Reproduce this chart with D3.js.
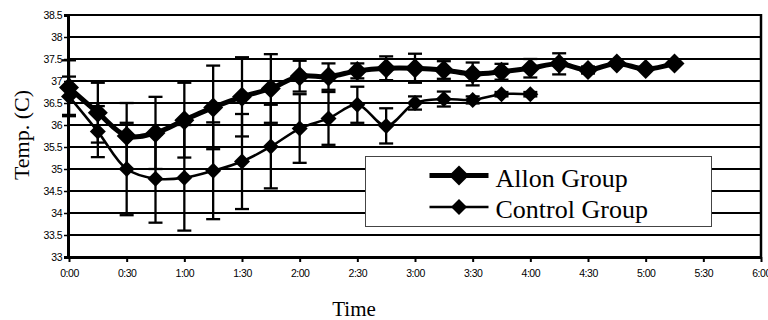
<!DOCTYPE html>
<html>
<head>
<meta charset="utf-8">
<script src="https://cdn.jsdelivr.net/npm/d3@7"></script>
<style>
    html, body { margin: 0; padding: 0; background: #fff; }
    svg { display: block; }
    .tick-label { font-family: 'Liberation Sans', Arial, sans-serif; font-size: 10.5px; letter-spacing: -0.5px; fill: #000; }
</style>
</head>
<body>
<svg id="chart" width="768" height="320"></svg>
<script>

const timeTicks = [0, 30, 60, 90, 120, 150, 180, 210, 240, 270, 300, 330, 360];
const timeTickLabels = ['0:00', '0:30', '1:00', '1:30', '2:00', '2:30', '3:00', '3:30', '4:00', '4:30', '5:00', '5:30', '6:00'];
const tempTicks = [33, 33.5, 34, 34.5, 35, 35.5, 36, 36.5, 37, 37.5, 38, 38.5];

const seriesNames = ['Allon Group', 'Control Group'];

const allonTime = [0, 15, 30, 45, 60, 75, 90, 105, 120, 135, 150, 165, 180, 195, 210, 225, 240, 255, 270, 285, 300, 315];
const allonTemp = [36.85, 36.28, 35.75, 35.82, 36.11, 36.40, 36.64, 36.83, 37.11, 37.10, 37.23, 37.29, 37.29, 37.25, 37.16, 37.21, 37.29, 37.39, 37.25, 37.40, 37.27, 37.40];
const allonErr = [0.62, 0.68, 0.75, 0.82, 0.85, 0.95, 0.90, 0.78, 0.35, 0.30, 0.17, 0.27, 0.33, 0.20, 0.26, 0.18, 0.21, 0.24, 0.08, 0, 0, 0];

const controlTime = [0, 15, 30, 45, 60, 75, 90, 105, 120, 135, 150, 165, 180, 195, 210, 225, 240];
const controlTemp = [36.65, 35.85, 35.00, 34.78, 34.80, 34.96, 35.17, 35.51, 35.92, 36.15, 36.46, 35.98, 36.50, 36.59, 36.57, 36.70, 36.70];
const controlErr = [0.45, 0.58, 1.05, 1.00, 1.20, 1.10, 1.08, 0.95, 0.78, 0.60, 0.41, 0.40, 0.15, 0.17, 0.08, 0.05, 0.05];


const serifFont = "'Liberation Serif', 'Times New Roman', 'DejaVu Serif', serif";
const margin = {left: 69, right: 761, top: 15, bottom: 257};
const svg = d3.select('#chart');

const xScale = d3.scaleLinear()
    .domain([0, 360])
    .range([margin.left, margin.right]);

const yScale = d3.scaleLinear()
    .domain([33, 38.5])
    .range([margin.bottom, margin.top]);

function toPoints(times, temps, errs) {
    return times.map((t, i) => ({t: t, v: temps[i], e: errs[i]}));
}

function diamond(half) {
    return `M0,${-half}L${half},0L0,${half}L${-half},0Z`;
}

// horizontal gridlines (the bottom one is the axis itself)
svg.append('g')
    .selectAll('line')
    .data(tempTicks.slice(1))
    .enter()
    .append('line')
    .attr('x1', margin.left)
    .attr('x2', margin.right)
    .attr('y1', d => yScale(d))
    .attr('y2', d => yScale(d))
    .attr('stroke', '#000')
    .attr('stroke-width', 2);

// right border
svg.append('line')
    .attr('x1', margin.right).attr('x2', margin.right)
    .attr('y1', margin.top - 1).attr('y2', margin.bottom)
    .attr('stroke', '#000')
    .attr('stroke-width', 2.5);

// y axis
const yAxis = d3.axisLeft(yScale)
    .tickValues(tempTicks)
    .tickFormat(d => d3.format('')(d))
    .tickSize(4)
    .tickPadding(2);

const yAxisG = svg.append('g')
    .attr('transform', `translate(${margin.left - 1}, 0)`)
    .call(yAxis);
yAxisG.select('.domain').attr('stroke', '#000').attr('stroke-width', 3);
yAxisG.selectAll('.tick line').attr('stroke', '#000').attr('stroke-width', 1.5);
yAxisG.selectAll('.tick text')
    .attr('class', 'tick-label')
    .attr('font-family', null)
    .attr('font-size', null);

// x axis
const xAxis = d3.axisBottom(xScale)
    .tickValues(timeTicks)
    .tickFormat((d, i) => timeTickLabels[i])
    .tickSize(5)
    .tickSizeOuter(0)
    .tickPadding(8);

const xAxisG = svg.append('g')
    .attr('transform', `translate(0, ${margin.bottom})`)
    .call(xAxis);
xAxisG.select('.domain').attr('stroke', '#000').attr('stroke-width', 3);
xAxisG.selectAll('.tick line').attr('stroke', '#000').attr('stroke-width', 2);
xAxisG.selectAll('.tick text')
    .attr('class', 'tick-label')
    .attr('font-family', null)
    .attr('font-size', null);

function renderSeries(points, lineWidth, markerHalf) {
    const g = svg.append('g');

    const bars = g.selectAll('.err')
        .data(points.filter(p => p.e > 0))
        .enter()
        .append('g')
        .attr('class', 'err');

    bars.append('line')
        .attr('x1', d => xScale(d.t))
        .attr('x2', d => xScale(d.t))
        .attr('y1', d => yScale(d.v + d.e))
        .attr('y2', d => yScale(d.v - d.e))
        .attr('stroke', '#000')
        .attr('stroke-width', 2.3);

    [1, -1].forEach(sign => {
        bars.append('line')
            .attr('x1', d => xScale(d.t) - 7)
            .attr('x2', d => xScale(d.t) + 7)
            .attr('y1', d => yScale(d.v + sign * d.e))
            .attr('y2', d => yScale(d.v + sign * d.e))
            .attr('stroke', '#000')
            .attr('stroke-width', 2.3);
    });

    const line = d3.line()
        .x(d => xScale(d.t))
        .y(d => yScale(d.v))
        .curve(d3.curveCatmullRom.alpha(0.5));

    g.append('path')
        .datum(points)
        .attr('d', line)
        .attr('fill', 'none')
        .attr('stroke', '#000')
        .attr('stroke-width', lineWidth)
        .attr('stroke-linejoin', 'round');

    g.selectAll('.marker')
        .data(points)
        .enter()
        .append('path')
        .attr('class', 'marker')
        .attr('d', diamond(markerHalf))
        .attr('transform', d => `translate(${xScale(d.t)}, ${yScale(d.v)})`)
        .attr('fill', '#000');
}

renderSeries(toPoints(controlTime, controlTemp, controlErr), 2.5, 8);
renderSeries(toPoints(allonTime, allonTemp, allonErr), 5, 10);

// legend
const legend = svg.append('g').attr('transform', 'translate(365.5, 156.5)');
legend.append('rect')
    .attr('width', 346)
    .attr('height', 70)
    .attr('fill', '#fff')
    .attr('stroke', '#444')
    .attr('stroke-width', 1);

const legendItems = legend.selectAll('.item')
    .data(seriesNames)
    .enter()
    .append('g')
    .attr('class', 'item')
    .attr('transform', (_, i) => `translate(0, ${19 + i * 31.5})`);

legendItems.append('line')
    .attr('x1', 64).attr('x2', 123)
    .attr('y1', 0).attr('y2', 0)
    .attr('stroke', '#000')
    .attr('stroke-width', (_, i) => i === 0 ? 5 : 2.5);

legendItems.append('path')
    .attr('d', (_, i) => diamond(i === 0 ? 10 : 8))
    .attr('transform', 'translate(93.5, 0)')
    .attr('fill', '#000');

legendItems.append('text')
    .attr('x', 130)
    .attr('y', 11)
    .attr('font-family', serifFont)
    .attr('font-size', 26)
    .attr('fill', '#000')
    .text(d => d);

// axis titles
svg.append('text')
    .attr('font-family', serifFont)
    .attr('font-size', 22)
    .attr('text-anchor', 'middle')
    .attr('transform', 'translate(29, 135) rotate(-90)')
    .text('Temp. (C)');

svg.append('text')
    .attr('font-family', serifFont)
    .attr('font-size', 21)
    .attr('text-anchor', 'middle')
    .attr('x', 354)
    .attr('y', 316)
    .text('Time');

</script>
</body>
</html>
